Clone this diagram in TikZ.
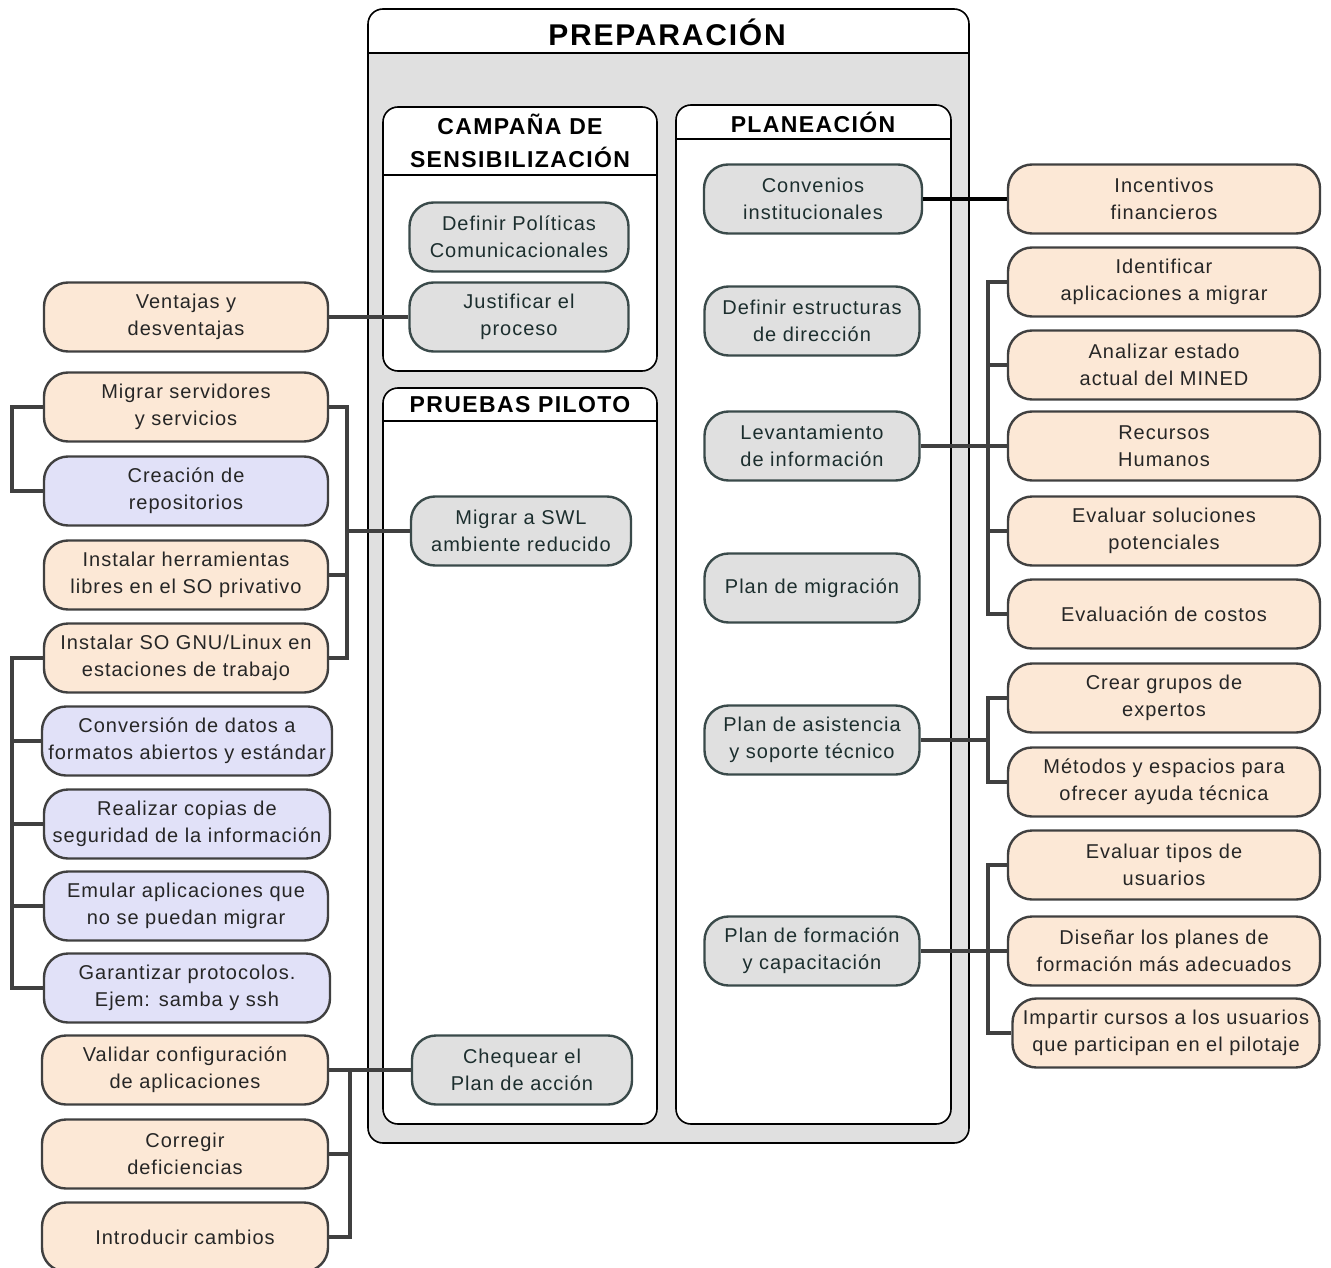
\documentclass[tikz,border=0pt]{standalone}
\usepackage{fontspec}
\setmainfont{Liberation Sans}
\newfontfamily\boxfont[LetterSpace=5]{Liberation Sans}
\newfontfamily\headfont[LetterSpace=6]{Liberation Sans}

\definecolor{boxgray}{RGB}{224,224,224}
\definecolor{peach}{RGB}{252,232,214}
\definecolor{lilac}{RGB}{225,225,248}
\definecolor{darkline}{RGB}{64,64,64}
\definecolor{slateline}{RGB}{58,74,74}
\definecolor{slatetext}{RGB}{28,46,46}

\tikzset{
    panel/.style={draw=black, line width=0.8pt, rounded corners=7.5pt},
    box/.style={draw, line width=1.2pt, rounded corners=12pt, align=center, inner sep=0pt,
        minimum height=34.5pt, font=\boxfont\fontsize{10}{13.5}\selectfont},
    graybox/.style={box, draw=slateline, fill=boxgray, text=slatetext},
    peachbox/.style={box, draw=darkline, fill=peach, text=black!85},
    lilacbox/.style={box, draw=darkline, fill=lilac, text=black!85},
    title/.style={font=\headfont\bfseries\fontsize{11.5}{16.5}\selectfont, align=center},
    conn/.style={draw=darkline, line width=2pt},
}

\begin{document}
\begin{tikzpicture}[x=0.5pt, y=-0.5pt]
    \useasboundingbox (0,0) rectangle (1331,1267);

    % outer panel
    \begin{scope}
        \clip[rounded corners=7.5pt] (368,9) rectangle (969,1143);
        \fill[boxgray] (368,9) rectangle (969,1143);
        \fill[white] (368,9) rectangle (969,53);
    \end{scope}
    \draw[panel] (368,9) rectangle (969,1143);
    \draw[line width=0.8pt] (368,53) -- (969,53);
    \node[font=\headfont\bfseries\fontsize{15}{18}\selectfont] (prep) at (667,32) {PREPARACIÓN};

    % inner panels
    \filldraw[panel, fill=white] (383,107) rectangle (657,371);
    \draw[line width=0.8pt] (383,175) -- (657,175);
    \node[title] (campana) at (520,141) {CAMPAÑA DE\\SENSIBILIZACIÓN};

    \filldraw[panel, fill=white] (383,388) rectangle (657,1124);
    \draw[line width=0.8pt] (383,421) -- (657,421);
    \node[title] (pruebas) at (520,405) {PRUEBAS PILOTO};

    \filldraw[panel, fill=white] (676,105) rectangle (951,1124);
    \draw[line width=0.8pt] (676,139) -- (951,139);
    \node[title] (planea) at (813,122) {PLANEACIÓN};

    % nodes inside
    \node[graybox, minimum width=109.5pt] (politicas) at (519,237) {Definir Políticas\\Comunicacionales};
    \node[graybox, minimum width=109.5pt] (justificar) at (519,317) {Justificar el\\proceso};
    \node[graybox, minimum width=110pt] (migswl) at (521,531) {Migrar a SWL\\ambiente reducido};
    \node[graybox, minimum width=110pt] (chequear) at (522,1070) {Chequear el\\Plan de acción};

    \node[graybox, minimum width=109pt] (convenios) at (813,199) {Convenios\\institucionales};
    \node[graybox, minimum width=107.5pt] (estructuras) at (812,321) {Definir estructuras\\de dirección};
    \node[graybox, minimum width=107.5pt] (levantam) at (812,446) {Levantamiento\\de información};
    \node[graybox, minimum width=107.5pt] (planmig) at (812,588) {Plan de migración};
    \node[graybox, minimum width=107.5pt] (asistencia) at (812,740) {Plan de asistencia\\y soporte técnico};
    \node[graybox, minimum width=107.5pt] (formacion) at (812,951) {Plan de formación\\y capacitación};

    % right column
    \node[peachbox, minimum width=156pt] (incentivos) at (1164,199) {Incentivos\\financieros};
    \node[peachbox, minimum width=156pt] (identificar) at (1164,282) {Identificar\\aplicaciones a migrar};
    \node[peachbox, minimum width=156pt] (analizar) at (1164,365) {Analizar estado\\actual del MINED};
    \node[peachbox, minimum width=156pt] (recursos) at (1164,446) {Recursos\\Humanos};
    \node[peachbox, minimum width=156pt] (evalsol) at (1164,531) {Evaluar soluciones\\potenciales};
    \node[peachbox, minimum width=156pt] (costos) at (1164,614) {Evaluación de costos};
    \node[peachbox, minimum width=156pt] (grupos) at (1164,698) {Crear grupos de\\expertos};
    \node[peachbox, minimum width=156pt] (metodos) at (1164,782) {Métodos y espacios para\\ofrecer ayuda técnica};
    \node[peachbox, minimum width=156pt] (tipos) at (1164,865) {Evaluar tipos de\\usuarios};
    \node[peachbox, minimum width=156pt] (disenar) at (1164,951) {Diseñar los planes de\\formación más adecuados};
    \node[peachbox, minimum width=153.5pt] (impartir) at (1166,1033) {Impartir cursos a los usuarios\\que participan en el pilotaje};

    % left column
    \node[peachbox, minimum width=142pt] (ventajas) at (186,317) {Ventajas y\\desventajas};
    \node[peachbox, minimum width=142pt] (migsrv) at (186,407) {Migrar servidores\\y servicios};
    \node[lilacbox, minimum width=142pt] (repos) at (186,491) {Creación de\\repositorios};
    \node[peachbox, minimum width=142pt] (herram) at (186,575) {Instalar herramientas\\libres en el SO privativo};
    \node[peachbox, minimum width=142pt] (instso) at (186,658) {Instalar SO GNU/Linux en\\estaciones de trabajo};
    \node[lilacbox, minimum width=145pt] (conversion) at (187,741) {Conversión de datos a\\formatos abiertos y estándar};
    \node[lilacbox, minimum width=143pt] (copias) at (187,824) {Realizar copias de\\seguridad de la información};
    \node[lilacbox, minimum width=142pt] (emular) at (186,906) {Emular aplicaciones que\\no se puedan migrar};
    \node[lilacbox, minimum width=143pt] (protocolos) at (187,988) {Garantizar protocolos.\\Ejem: samba y ssh};
    \node[peachbox, minimum width=143pt] (validar) at (185,1070) {Validar configuración\\de aplicaciones};
    \node[peachbox, minimum width=143pt] (corregir) at (185,1154) {Corregir\\deficiencias};
    \node[peachbox, minimum width=143pt] (cambios) at (185,1237) {Introducir cambios};

    % buses
    \coordinate (busL) at (12,0);
    \coordinate (busM) at (347,0);
    \coordinate (busC) at (350,0);
    \coordinate (busR) at (988,0);

    % connectors
    \draw[conn] (ventajas.east) -- (justificar.west);
    \draw[conn, draw=black] (convenios.east) -- (incentivos.west);

    \draw[conn] (migsrv.west) -- (migsrv.west -| busL) -- (repos.west -| busL) -- (repos.west);
    \draw[conn] (migsrv.east) -- (migsrv.east -| busM) -- (instso.east -| busM) -- (instso.east);
    \draw[conn] (herram.east) -- (herram.east -| busM);
    \draw[conn] (migswl.west) -- (migswl.west -| busM);

    \draw[conn] (instso.west) -- (instso.west -| busL) -- (protocolos.west -| busL) -- (protocolos.west);
    \foreach \n in {conversion, copias, emular}
        \draw[conn] (\n.west) -- (\n.west -| busL);

    \draw[conn] (chequear.west) -- (validar.east);
    \draw[conn] (validar.east -| busC) -- (cambios.east -| busC) -- (cambios.east);
    \draw[conn] (corregir.east) -- (corregir.east -| busC);

    \draw[conn] (levantam.east) -- (recursos.west);
    \draw[conn] (identificar.west) -- (identificar.west -| busR) -- (costos.west -| busR) -- (costos.west);
    \foreach \n in {analizar, evalsol}
        \draw[conn] (\n.west) -- (\n.west -| busR);

    \draw[conn] (asistencia.east) -- (asistencia.east -| busR);
    \draw[conn] (grupos.west) -- (grupos.west -| busR) -- (metodos.west -| busR) -- (metodos.west);

    \draw[conn] (formacion.east) -- (disenar.west);
    \draw[conn] (tipos.west) -- (tipos.west -| busR) -- (impartir.west -| busR) -- (impartir.west);
\end{tikzpicture}
\end{document}
